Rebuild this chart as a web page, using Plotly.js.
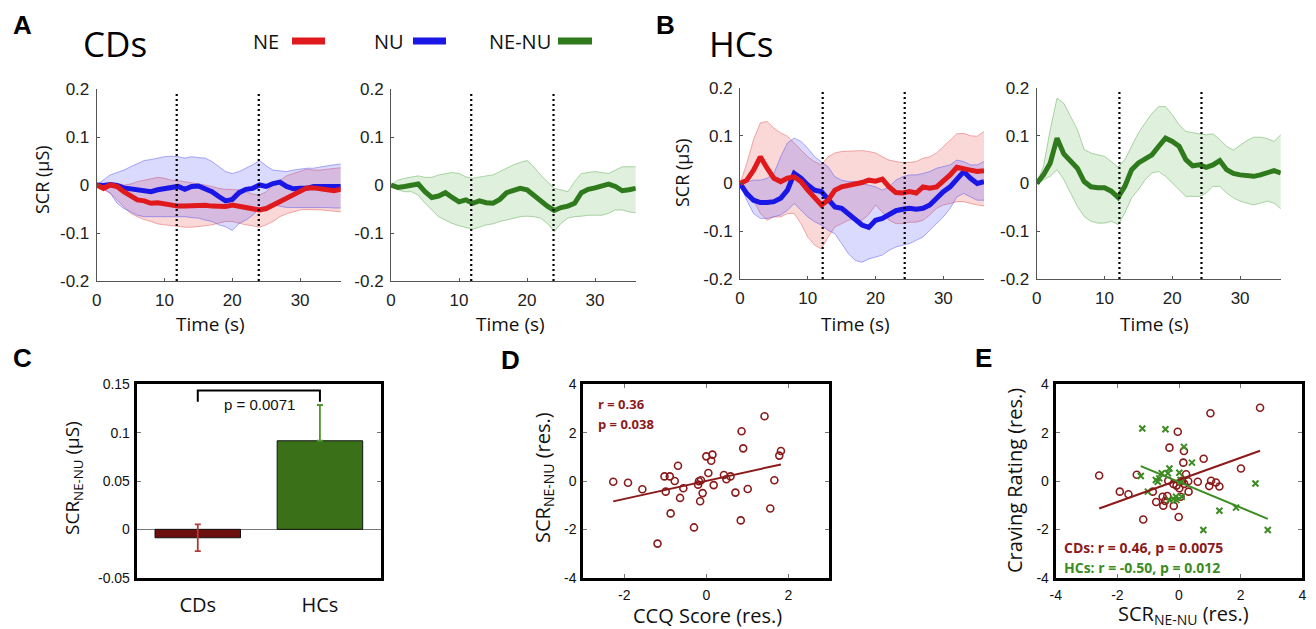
<!DOCTYPE html>
<html><head><meta charset="utf-8">
<script src="https://cdn.plot.ly/plotly-3.0.1.min.js"></script>
<style>html,body{margin:0;padding:0;background:#fff;}#chart{width:1316px;height:629px;}</style>
</head><body><div id="chart"></div>
<script>
// ---------- DATA ----------
const timeS = [0,1,2,3,4,5,6,7,8,9,10,11,12,13,14,15,16,17,18,19,20,21,22,23,24,25,26,27,28,29,30,31,32,33,34,35,36];
const timeTicks = [0,10,20,30];
const timeTickText = ['0','10','20','30'];
const scrTicks = [-0.2,-0.1,0,0.1,0.2];
const scrTickText = ['-0.2','-0.1','0','0.1','0.2'];
const cdEvents = [11.8, 23.9];
const hcEvents = [12.2, 24.3];

// CDs (panel A)
const cdNE   = [0,-0.007,0,-0.003,-0.014,-0.024,-0.031,-0.033,-0.038,-0.037,-0.040,-0.042,-0.044,-0.044,-0.043,-0.043,-0.042,-0.044,-0.044,-0.045,-0.042,-0.044,-0.047,-0.049,-0.052,-0.049,-0.042,-0.033,-0.026,-0.019,-0.012,-0.006,-0.006,-0.008,-0.011,-0.012,-0.009];
const cdNEup = [0,0,0.002,0.003,0,0.002,0.007,0.010,0.014,0.016,0.014,0.010,0.009,0.007,0.005,0.003,0,-0.003,-0.007,-0.009,-0.010,-0.010,-0.014,-0.019,-0.021,-0.014,0,0.010,0.019,0.024,0.028,0.033,0.031,0.031,0.033,0.035,0.036];
const cdNElo = [0,-0.010,-0.017,-0.031,-0.045,-0.059,-0.066,-0.072,-0.076,-0.081,-0.083,-0.085,-0.087,-0.088,-0.088,-0.087,-0.085,-0.083,-0.080,-0.076,-0.076,-0.080,-0.083,-0.085,-0.088,-0.083,-0.076,-0.066,-0.060,-0.056,-0.052,-0.051,-0.051,-0.052,-0.053,-0.054,-0.056];
const cdNU   = [0,-0.001,0.001,-0.001,-0.006,-0.008,-0.010,-0.012,-0.014,-0.010,-0.007,-0.005,-0.003,-0.009,-0.003,-0.002,-0.007,-0.014,-0.024,-0.033,-0.030,-0.016,-0.009,-0.007,0,-0.003,0.003,0.006,-0.003,-0.008,-0.007,-0.007,-0.003,-0.002,-0.003,-0.003,-0.003];
const cdNUup = [0,0.010,0.021,0.026,0.031,0.038,0.045,0.051,0.053,0.056,0.059,0.060,0.059,0.056,0.059,0.057,0.056,0.049,0.038,0.028,0.024,0.028,0.035,0.042,0.051,0.040,0.031,0.030,0.028,0.031,0.033,0.035,0.035,0.038,0.040,0.042,0.044];
const cdNUlo = [0,-0.007,-0.017,-0.038,-0.049,-0.056,-0.063,-0.066,-0.066,-0.066,-0.066,-0.066,-0.066,-0.066,-0.068,-0.069,-0.073,-0.076,-0.083,-0.087,-0.095,-0.080,-0.073,-0.063,-0.049,-0.045,-0.042,-0.044,-0.047,-0.047,-0.047,-0.046,-0.046,-0.046,-0.047,-0.048,-0.048];
const cdDiff   = [0,-0.005,-0.003,-0.001,0.002,-0.014,-0.026,-0.023,-0.016,-0.026,-0.035,-0.031,-0.038,-0.033,-0.037,-0.038,-0.030,-0.016,-0.012,-0.007,-0.010,-0.021,-0.035,-0.044,-0.053,-0.047,-0.044,-0.038,-0.016,-0.009,-0.006,-0.003,0.002,-0.003,-0.012,-0.010,-0.007];
const cdDiffUp = [0,0.010,0.014,0.016,0.019,0.016,0.016,0.021,0.024,0.026,0.024,0.017,0.014,0.017,0.019,0.021,0.028,0.035,0.042,0.047,0.051,0.038,0.021,0.007,-0.007,-0.010,-0.014,0.007,0.024,0.026,0.028,0.026,0.024,0.031,0.038,0.038,0.038];
const cdDiffLo = [0,-0.010,-0.014,-0.014,-0.021,-0.038,-0.052,-0.066,-0.073,-0.080,-0.085,-0.088,-0.092,-0.088,-0.083,-0.081,-0.076,-0.073,-0.069,-0.066,-0.065,-0.066,-0.069,-0.080,-0.097,-0.080,-0.069,-0.066,-0.065,-0.063,-0.063,-0.063,-0.059,-0.052,-0.052,-0.056,-0.058];

// HCs (panel B)
const hcNE   = [0,0.007,0.028,0.056,0.032,0.011,0.004,0.011,0.014,0.004,-0.014,-0.031,-0.045,-0.035,-0.014,-0.007,-0.004,-0.002,0.002,0.007,0.005,0.009,-0.007,-0.019,-0.020,-0.017,-0.020,-0.007,-0.010,-0.007,0.004,0.018,0.034,0.032,0.028,0.025,0.027];
const hcNEup = [0,0.042,0.092,0.127,0.130,0.116,0.106,0.099,0.085,0.071,0.056,0.046,0.039,0.056,0.064,0.067,0.068,0.069,0.069,0.067,0.064,0.056,0.049,0.046,0.044,0.044,0.046,0.053,0.056,0.064,0.077,0.092,0.104,0.105,0.100,0.099,0.109];
const hcNElo = [0,-0.014,-0.035,-0.063,-0.077,-0.070,-0.070,-0.063,-0.063,-0.084,-0.112,-0.129,-0.137,-0.112,-0.091,-0.084,-0.077,-0.074,-0.077,-0.065,-0.045,-0.060,-0.077,-0.084,-0.084,-0.081,-0.081,-0.077,-0.066,-0.052,-0.045,-0.042,-0.038,-0.038,-0.042,-0.045,-0.047];
const hcNU   = [0,-0.021,-0.035,-0.040,-0.040,-0.038,-0.031,-0.014,0.021,0.011,-0.003,-0.014,-0.017,-0.035,-0.049,-0.052,-0.063,-0.073,-0.087,-0.092,-0.077,-0.073,-0.066,-0.057,-0.054,-0.052,-0.054,-0.052,-0.045,-0.031,-0.017,-0.007,0.011,0.025,0.011,0,0.004];
const hcNUup = [0,0.004,0.007,0.007,0.011,0.021,0.056,0.085,0.095,0.088,0.074,0.056,0.046,0.035,0.014,0.007,0.004,0.004,0,-0.003,-0.007,-0.014,-0.007,0.007,0.014,0.018,0.018,0.021,0.025,0.032,0.035,0.039,0.049,0.046,0.039,0.039,0.046];
const hcNUlo = [0,-0.035,-0.063,-0.073,-0.073,-0.070,-0.066,-0.056,-0.042,-0.056,-0.070,-0.080,-0.087,-0.098,-0.105,-0.126,-0.147,-0.161,-0.165,-0.158,-0.154,-0.150,-0.140,-0.133,-0.129,-0.126,-0.119,-0.112,-0.098,-0.084,-0.070,-0.052,-0.028,-0.021,-0.028,-0.035,-0.035];
const hcDiff   = [0,0.018,0.043,0.095,0.062,0.046,0.032,0.004,-0.007,-0.009,-0.009,-0.016,-0.029,-0.006,0.029,0.043,0.051,0.060,0.078,0.095,0.088,0.078,0.050,0.037,0.039,0.034,0.039,0.048,0.029,0.021,0.018,0.016,0.015,0.018,0.022,0.027,0.022];
const hcDiffUp = [0,0.036,0.113,0.179,0.168,0.140,0.113,0.071,0.064,0.060,0.057,0.046,0.034,0.050,0.078,0.106,0.127,0.147,0.161,0.161,0.144,0.123,0.109,0.106,0.104,0.102,0.104,0.092,0.078,0.070,0.080,0.090,0.097,0.097,0.094,0.088,0.102];
const hcDiffLo = [0,0.008,0.015,0.029,0.008,-0.020,-0.048,-0.069,-0.079,-0.083,-0.083,-0.079,-0.086,-0.062,-0.030,-0.013,0.008,0.022,0.025,0.015,0.001,-0.013,-0.027,-0.027,-0.027,-0.020,-0.006,-0.006,-0.020,-0.030,-0.037,-0.041,-0.045,-0.041,-0.037,-0.041,-0.053];

// Panel C
const groups   = ['CDs','HCs'];
const meanDiff = [-0.0087, 0.0916];
const semDiff  = [0.0138, 0.037];
const cTicks = [-0.05,0,0.05,0.1,0.15];
const cTickText = ['-0.05','0','0.05','0.1','0.15'];
const pText = 'p = 0.0071';

// Panel D
const ccqScore = [-2.27,-1.91,-1.56,-1.19,-1.02,-0.99,-0.89,-0.87,-0.77,-0.69,-0.64,-0.56,-0.30,-0.20,-0.18,-0.15,-0.13,-0.09,0.00,0.05,0.12,0.15,0.18,0.43,0.49,0.59,0.71,0.84,0.86,0.90,1.01,1.42,1.56,1.66,1.78,1.82];
const scrResD  = [-0.03,-0.07,-0.34,-2.59,0.19,-0.44,0.19,-1.34,0.00,0.63,-0.70,-0.30,-1.92,-0.15,-0.01,-0.84,0.03,-0.50,1.02,0.33,0.84,1.09,-0.17,0.25,0.07,0.19,-0.48,-1.63,2.06,1.35,-0.33,2.68,-1.14,0.03,1.05,1.24];

// Panel E
const scrResCD   = [-2.59,-1.92,-1.64,-1.37,-1.16,-0.85,-0.74,-0.53,-0.51,-0.45,-0.38,-0.35,-0.31,-0.18,-0.17,-0.08,-0.04,-0.01,0.01,0.05,0.10,0.14,0.16,0.17,0.23,0.30,0.31,0.61,0.80,0.98,1.02,1.04,1.20,1.31,2.01,2.63];
const cravingCD  = [0.23,-0.44,-0.55,0.26,-1.59,-0.44,-0.87,-0.65,-1.02,-0.83,-0.62,0.01,1.38,-0.12,-1.03,-0.19,2.04,-1.49,-0.30,-0.65,0.01,0.76,1.24,-0.12,0.28,-0.01,-0.44,-0.03,0.92,-0.21,2.80,0.01,-0.06,-0.23,0.52,3.03];
const scrResHC   = [-1.19,-0.44,-1.24,-1.01,-0.75,-0.69,-0.64,-0.56,-0.31,-0.36,-0.31,-0.18,-0.10,-0.08,0.01,0.05,0.08,0.09,0.16,0.42,0.79,1.31,1.85,2.48,2.88];
const cravingHC  = [2.17,2.14,0.21,-0.44,0.04,-0.03,0.11,0.32,0.52,0.32,-0.79,-0.74,-0.65,-0.79,0.34,0.04,-0.03,-0.65,1.41,0.76,-2.03,-1.23,-1.10,-0.10,-2.03];
const resTicksD = [-2,0,2];
const resTicksE = [-4,-2,0,2,4];

// ---------- STYLE / HELPERS ----------
const W = 1316, H = 629;
const fx = p => p / W, fy = p => 1 - p / H;
const RED = '#e0191c', BLUE = '#1a17e6', GREEN = '#2f7a1c';
const DKRED = '#8b1a1a', EGREEN = '#3b8c22';
const TXT = 'Open Sans, Lato, sans-serif';
const NUM = 'Liberation Sans, Arial, sans-serif';

function fit(x, y) {
  const n = x.length;
  const mx = x.reduce((a,b)=>a+b,0)/n, my = y.reduce((a,b)=>a+b,0)/n;
  let sxy = 0, sxx = 0;
  for (let i=0;i<n;i++){ sxy += (x[i]-mx)*(y[i]-my); sxx += (x[i]-mx)**2; }
  const b = sxy/sxx, a = my - b*mx;
  const x0 = Math.min(...x), x1 = Math.max(...x);
  return {x:[x0,x1], y:[a+b*x0, a+b*x1]};
}

const traces = [];
function band(xa, ya, lo, up, lineCol, fillCol) {
  traces.push({x:timeS, y:lo, xaxis:xa, yaxis:ya, type:'scatter', mode:'lines', line:{color:lineCol, width:0.8}, hoverinfo:'skip', showlegend:false});
  traces.push({x:timeS, y:up, xaxis:xa, yaxis:ya, type:'scatter', mode:'lines', fill:'tonexty', fillcolor:fillCol, line:{color:lineCol, width:0.8}, hoverinfo:'skip', showlegend:false});
}
function mean(xa, ya, y, col) {
  traces.push({x:timeS, y:y, xaxis:xa, yaxis:ya, type:'scatter', mode:'lines', line:{color:col, width:5}, hoverinfo:'skip', showlegend:false});
}
const redLine = 'rgba(225,70,70,0.55)', redFill = 'rgba(235,60,60,0.20)';
const blueLine = 'rgba(70,70,240,0.55)', blueFill = 'rgba(70,70,255,0.20)';
const grnLine = 'rgba(90,170,80,0.6)', grnFill = 'rgba(110,185,95,0.22)';

// A left
band('x','y', cdNElo, cdNEup, redLine, redFill);
band('x','y', cdNUlo, cdNUup, blueLine, blueFill);
mean('x','y', cdNU, BLUE);
mean('x','y', cdNE, RED);
// A right
band('x2','y2', cdDiffLo, cdDiffUp, grnLine, grnFill);
mean('x2','y2', cdDiff, GREEN);
// B left
band('x3','y3', hcNElo, hcNEup, redLine, redFill);
band('x3','y3', hcNUlo, hcNUup, blueLine, blueFill);
mean('x3','y3', hcNU, BLUE);
mean('x3','y3', hcNE, RED);
// B right
band('x4','y4', hcDiffLo, hcDiffUp, grnLine, grnFill);
mean('x4','y4', hcDiff, GREEN);

// C bars
const barCols = ['#6e0f0f', '#3a7118'];
const errCols = ['#b23a3a', '#4f9a2e'];
groups.forEach((g,i) => {
  traces.push({type:'bar', x:[i], y:[meanDiff[i]], xaxis:'x5', yaxis:'y5', width:0.7,
    marker:{color:barCols[i], line:{color:'#111', width:1}},
    error_y:{type:'data', array:[semDiff[i]], arrayminus:[i===0 ? semDiff[i] : 0], color:errCols[i], thickness:1.8, width:3},
    hoverinfo:'skip', showlegend:false});
});

// D scatter + fit
traces.push({x:ccqScore, y:scrResD, xaxis:'x6', yaxis:'y6', type:'scatter', mode:'markers',
  marker:{symbol:'circle-open', size:7, color:DKRED, line:{width:1.6, color:DKRED}}, hoverinfo:'skip', showlegend:false});
const fD = fit(ccqScore, scrResD);
traces.push({x:fD.x, y:fD.y, xaxis:'x6', yaxis:'y6', type:'scatter', mode:'lines', line:{color:DKRED, width:2}, hoverinfo:'skip', showlegend:false});

// E scatter + fits
traces.push({x:scrResCD, y:cravingCD, xaxis:'x7', yaxis:'y7', type:'scatter', mode:'markers',
  marker:{symbol:'circle-open', size:7, color:DKRED, line:{width:1.6, color:DKRED}}, hoverinfo:'skip', showlegend:false});
traces.push({x:scrResHC, y:cravingHC, xaxis:'x7', yaxis:'y7', type:'scatter', mode:'markers',
  marker:{symbol:'x-thin-open', size:6, color:EGREEN, line:{width:2, color:EGREEN}}, hoverinfo:'skip', showlegend:false});
const fEC = fit(scrResCD, cravingCD), fEH = fit(scrResHC, cravingHC);
traces.push({x:fEC.x, y:fEC.y, xaxis:'x7', yaxis:'y7', type:'scatter', mode:'lines', line:{color:DKRED, width:2}, hoverinfo:'skip', showlegend:false});
traces.push({x:fEH.x, y:fEH.y, xaxis:'x7', yaxis:'y7', type:'scatter', mode:'lines', line:{color:EGREEN, width:2}, hoverinfo:'skip', showlegend:false});

// ---------- AXES ----------
function tsX(l, r, anchor) {
  return {domain:[fx(l), fx(r)], anchor, range:[0,36], showline:true, linecolor:'#555', linewidth:1,
    ticks:'inside', ticklen:3, tickcolor:'#555', tickvals:timeTicks, ticktext:timeTickText,
    tickfont:{family:NUM, size:17, color:'#222'}, ticklabelstandoff:4, showgrid:false, zeroline:false, fixedrange:true};
}
function tsY(t, b, anchor) {
  return {domain:[fy(b), fy(t)], anchor, range:[-0.2,0.2], showline:true, linecolor:'#555', linewidth:1,
    ticks:'inside', ticklen:3, tickcolor:'#555', tickvals:scrTicks, ticktext:scrTickText,
    tickfont:{family:NUM, size:17, color:'#222'}, ticklabelstandoff:3, showgrid:false, zeroline:false, fixedrange:true};
}
function boxAx(dom, anchor, range, tv, tt, fsize, extra) {
  return Object.assign({domain:dom, anchor, range, showline:true, linecolor:'#000', linewidth:3, mirror:'ticks',
    ticks:'inside', ticklen:4, tickcolor:'#777', tickvals:tv, ticktext:tt,
    tickfont:{family:NUM, size:fsize, color:'#111'}, showgrid:false, zeroline:false, fixedrange:true}, extra||{});
}

const boxT = 384.3, boxB = 577.7;
const layout = {
  width:W, height:H, margin:{l:0,r:0,t:0,b:0}, paper_bgcolor:'#fff', plot_bgcolor:'rgba(0,0,0,0)',
  showlegend:false, barmode:'overlay',
  xaxis: tsX(96.7, 340.8, 'y'),  yaxis: tsY(89, 281, 'x'),
  xaxis2: tsX(391, 635.8, 'y2'), yaxis2: tsY(89, 281, 'x2'),
  xaxis3: tsX(740, 984, 'y3'),   yaxis3: tsY(88, 279, 'x3'),
  xaxis4: tsX(1036.7, 1280.8, 'y4'), yaxis4: tsY(88, 279, 'x4'),
  xaxis5: boxAx([fx(136.7), fx(381)], 'y5', [-0.5,1.5], [0,1], groups, 20,
     {ticks:'', tickfont:{family:TXT, size:20, color:'#111'}, ticklabelstandoff:7}),
  yaxis5: boxAx([fy(boxB), fy(boxT)], 'x5', [-0.05,0.15], cTicks, cTickText, 14,
     {zeroline:true, zerolinecolor:'#777', zerolinewidth:1, ticklabelstandoff:1}),
  xaxis6: boxAx([fx(583.3), fx(829.3)], 'y6', [-3,3], resTicksD, resTicksD.map(String), 14, {ticklabelstandoff:2}),
  yaxis6: boxAx([fy(boxB), fy(boxT)], 'x6', [-4,4], resTicksE, resTicksE.map(String), 14, {ticklabelstandoff:1}),
  xaxis7: boxAx([fx(1055.7), fx(1302.3)], 'y7', [-4,4], resTicksE, resTicksE.map(String), 14, {ticklabelstandoff:2}),
  yaxis7: boxAx([fy(boxB), fy(boxT)], 'x7', [-4,4], resTicksE, resTicksE.map(String), 14, {ticklabelstandoff:1}),
  shapes: [], annotations: []
};

// event markers (dotted)
[['x','y',cdEvents],['x2','y2',cdEvents],['x3','y3',hcEvents],['x4','y4',hcEvents]].forEach(([xa,ya,ev]) => {
  ev.forEach(t => layout.shapes.push({type:'line', xref:xa, yref:ya+' domain', x0:t, x1:t, y0:0, y1:0.98,
    line:{color:'#000', width:2.2, dash:'2px,3px'}}));
});
// significance bracket in C
layout.shapes.push({type:'path', xref:'x5', yref:'y5', path:'M 0 0.132 L 0 0.1435 L 1 0.1435 L 1 0.132', line:{color:'#000', width:2}});

// legend keys
const legendItems = [['NE', RED, 266, 292, 325], ['NU', BLUE, 389, 413, 446], ['NE-NU', GREEN, 519.5, 558, 592]];
legendItems.forEach(([t, c, tx, l0, l1]) => {
  layout.annotations.push({text:t, xref:'paper', yref:'paper', x:fx(tx), y:fy(41), xanchor:'center', yanchor:'middle', showarrow:false, font:{family:TXT, size:20, color:'#111'}});
  layout.shapes.push({type:'line', xref:'paper', yref:'paper', x0:fx(l0), x1:fx(l1), y0:fy(41), y1:fy(41), line:{color:c, width:7}});
});

function ann(text, x, y, o) {
  layout.annotations.push(Object.assign({text, xref:'paper', yref:'paper', x:fx(x), y:fy(y), xanchor:'center', yanchor:'middle', showarrow:false,
    font:{family:TXT, size:20, color:'#111'}}, o||{}));
}
// panel letters
[['A',22,25],['B',665,25],['C',22,358],['D',511,360],['E',983,358]].forEach(([t,x,y]) =>
  ann('<b>'+t+'</b>', x, y, {font:{family:NUM, size:26, color:'#000'}}));
// group titles
ann('CDs', 115, 43, {font:{family:TXT, size:35, color:'#000'}});
ann('HCs', 741, 43, {font:{family:TXT, size:35, color:'#000'}});
// time-series axis titles
ann('SCR (μS)', 42, 180, {textangle:-90, font:{family:TXT, size:18, color:'#111'}});
ann('SCR (μS)', 682, 172, {textangle:-90, font:{family:TXT, size:18, color:'#111'}});
[210, 510, 855, 1154].forEach(x => ann('Time (s)', x, 324, {font:{family:TXT, size:19, color:'#111'}}));
// C
ann('SCR<sub>NE-NU</sub> (μS)', 73, 478, {textangle:-90, font:{family:TXT, size:19, color:'#111'}});
ann(pText, 259, 404, {font:{family:NUM, size:15, color:'#111'}});
// D
ann('SCR<sub>NE-NU</sub> (res.)', 543, 478, {textangle:-90, font:{family:TXT, size:20, color:'#111'}});
ann('CCQ Score (res.)', 707, 615, {font:{family:TXT, size:20, color:'#111'}});
ann('<b>r = 0.36</b>', 596, 404, {xanchor:'left', font:{family:TXT, size:13, color:DKRED}});
ann('<b>p = 0.038</b>', 596, 424, {xanchor:'left', font:{family:TXT, size:13, color:DKRED}});
// E
ann('Craving Rating (res.)', 1015, 481, {textangle:-90, font:{family:TXT, size:20, color:'#111'}});
ann('SCR<sub>NE-NU</sub> (res.)', 1183, 614, {font:{family:TXT, size:20, color:'#111'}});
ann('<b>CDs: r = 0.46, p = 0.0075</b>', 1062, 547, {xanchor:'left', font:{family:TXT, size:14, color:DKRED}});
ann('<b>HCs: r = -0.50, p = 0.012</b>', 1062, 567, {xanchor:'left', font:{family:TXT, size:14, color:EGREEN}});

Plotly.newPlot('chart', traces, layout, {staticPlot:true, displayModeBar:false});
</script></body></html>
